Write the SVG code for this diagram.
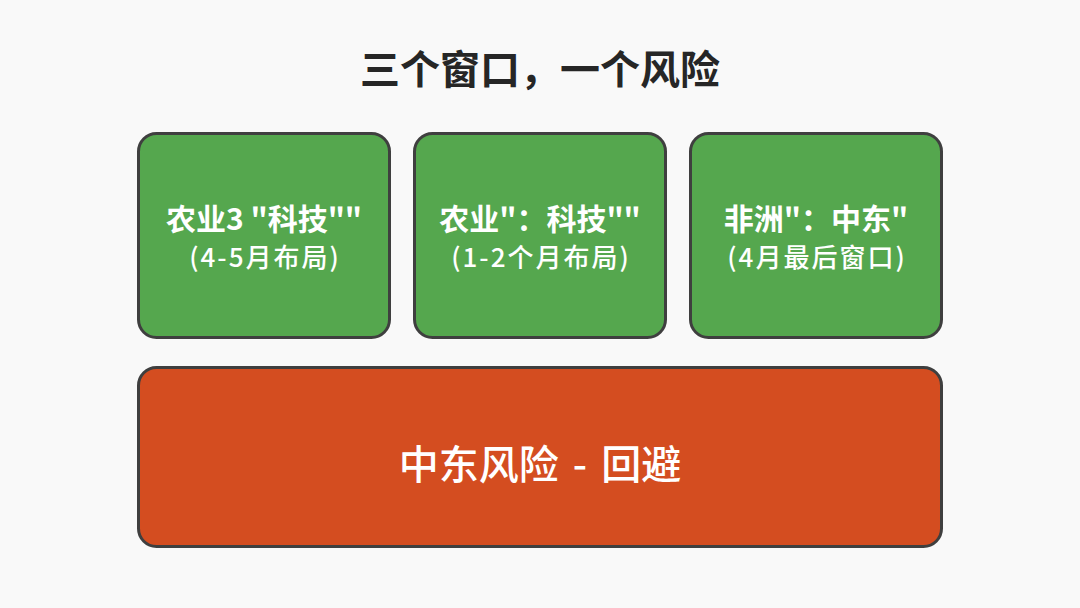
<svg xmlns="http://www.w3.org/2000/svg" width="1080" height="608" viewBox="0 0 1080 608">
<style>
.box{stroke:#3f3f3f;stroke-width:3}
.g{fill:#55a74e}
.r{fill:#d44d20}
text{font-family:"Noto Sans CJK SC","Noto Sans",sans-serif;fill:#fff;text-anchor:middle}
.t1{font-size:30px;font-weight:bold}
.t2{font-size:26px;font-weight:500;letter-spacing:2px}
</style>
<rect width="1080" height="608" fill="#f9f9f9"/>
<text x="540" y="84" style="font-size:40px;font-weight:bold;fill:#262626">三个窗口，一个风险</text>
<g id="node1">
<rect class="box g" x="138.5" y="133.5" width="251" height="204" rx="18"/>
<text class="t1" x="264" y="230">农业3 "科技""</text>
<text class="t2" x="265" y="267">(4-5月布局)</text>
</g>
<g id="node2">
<rect class="box g" x="414.5" y="133.5" width="251" height="204" rx="18"/>
<text class="t1" x="540" y="230">农业"：科技""</text>
<text class="t2" x="541" y="267">(1-2个月布局)</text>
</g>
<g id="node3">
<rect class="box g" x="690.5" y="133.5" width="251" height="204" rx="18"/>
<text class="t1" x="816" y="230">非洲"：中东"</text>
<text class="t2" x="817" y="267">(4月最后窗口)</text>
</g>
<g id="node4">
<rect class="box r" x="138.5" y="367.5" width="803" height="179" rx="18"/>
<text x="540" y="479" style="font-size:40px;font-weight:500;word-spacing:5px">中东风险 - 回避</text>
</g>
<g id="connectors"></g>
</svg>
